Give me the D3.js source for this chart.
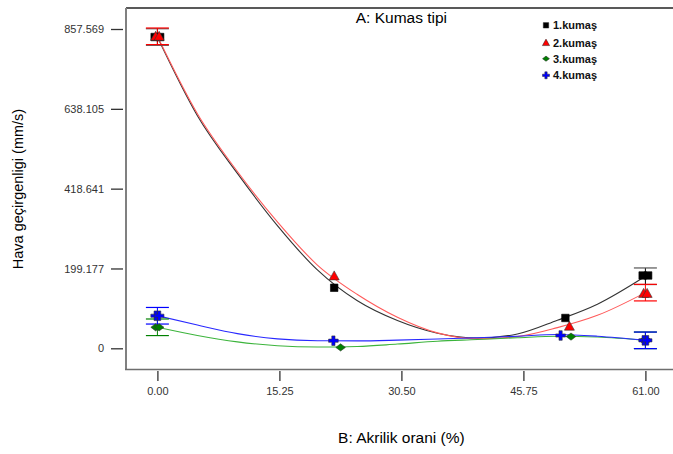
<!DOCTYPE html>
<html>
<head>
<meta charset="utf-8">
<script src="https://cdn.jsdelivr.net/npm/d3@7"></script>
<style>
body { margin: 0; background: #fff; }
svg { display: block; font-family: "Liberation Sans", Arial, sans-serif; }
</style>
</head>
<body>
<svg id="chart"></svg>
<script>
const series = ['1.kumaş', '2.kumaş', '3.kumaş', '4.kumaş'];
const markerColors = ['#000000', '#ff0000', '#008000', '#0000ff'];
const lineColors = ['#333333', '#ff5a5a', '#3cb43c', '#2828ff'];
const xTicks = [0, 15.25, 30.5, 45.75, 61];
// the bottom tick sits at the axis minimum but is labelled "0"
const yTicks = [-20.287, 199.177, 418.641, 638.105, 857.569];
const yTickLabels = ['0', '199.177', '418.641', '638.105', '857.569'];

// observed points
const pointX = [
    [0, 22.1, 51.0, 61],
    [0, 22.1, 51.5, 61],
    [0, 22.9, 51.7, 61],
    [0, 22.0, 50.4, 61]
];
const pointY = [
    [835.5, 146.1, 63.1, 179.9],
    [837.5, 178.8, 40.5, 130.7],
    [37.5, -17.8, 11.9, 1.6],
    [69.2, 0.6, 14.9, 1.6]
];
const pointReps = [2, 1, 1, 2];

// model curves
const curveX = [0, 5, 10, 15, 20, 25, 30, 35, 40, 45, 50, 55, 61];
const curveY = [
    [835.5, 619.3, 460.6, 317.1, 195.2, 110.2, 55.9, 21.1, 7.8, 19.0, 56.9, 101.0, 177.8],
    [837.5, 624.5, 465.7, 327.4, 208.6, 127.6, 65.1, 22.1, 5.7, 11.9, 36.5, 70.3, 132.8],
    [37.5, 15.0, -2.5, -13.2, -16.8, -15.3, -8.6, -0.9, 3.7, 8.8, 12.9, 10.8, 1.6],
    [69.2, 43.6, 20.1, 5.7, 0.6, 0.1, 2.1, 5.2, 8.8, 12.9, 17.5, 12.9, 1.6]
];

// LSD bars at the two ends
const barX = [0, 61];
const barY = [[835.5, 177.8], [837.5, 132.8], [37.5, 1.6], [69.2, 1.6]];
const barHalf = 22.8;

const width = 673, height = 454;
const frame = { left: 126, top: 8, bottom: 369.5, right: 680 };

const svg = d3.select('#chart').attr('width', width).attr('height', height);

const x = d3.scaleLinear().domain([0, 61]).range([157.4, 645.4]);
const y = d3.scaleLinear().domain([-20.287, 857.569]).range([348.3, 29]);

// frame
svg.append('line')
    .attr('x1', frame.left).attr('x2', frame.right)
    .attr('y1', frame.top).attr('y2', frame.top)
    .attr('stroke', '#222').attr('stroke-width', 1.5);
svg.append('line')
    .attr('x1', frame.left).attr('x2', frame.left)
    .attr('y1', frame.top).attr('y2', frame.bottom)
    .attr('stroke', '#808080').attr('stroke-width', 2);
svg.append('line')
    .attr('x1', frame.left - 1).attr('x2', frame.right)
    .attr('y1', frame.bottom).attr('y2', frame.bottom)
    .attr('stroke', '#6e6e6e').attr('stroke-width', 1.5);

// y axis
const yAxis = d3.axisLeft(y).tickValues(yTicks).tickSize(12).tickPadding(7)
    .tickFormat((d, i) => yTickLabels[i]);
svg.append('g')
    .attr('transform', `translate(${frame.left - 3},0)`)
    .call(yAxis)
    .call(g => g.select('.domain').remove())
    .call(g => g.selectAll('line').attr('stroke', '#333').attr('stroke-width', 1.3))
    .call(g => g.selectAll('text').attr('fill', '#333').style('font-size', '11px')
        .style('font-family', '"Liberation Sans", Arial, sans-serif'));

// x axis
const xAxis = d3.axisBottom(x).tickValues(xTicks).tickSize(10).tickPadding(6)
    .tickFormat(d3.format('.2f'));
svg.append('g')
    .attr('transform', `translate(0,${frame.bottom + 1.5})`)
    .call(xAxis)
    .call(g => g.select('.domain').remove())
    .call(g => g.selectAll('line').attr('stroke', '#333').attr('stroke-width', 1.3))
    .call(g => g.selectAll('text').attr('fill', '#333').style('font-size', '11px')
        .style('font-family', '"Liberation Sans", Arial, sans-serif'));

// titles
svg.append('text')
    .attr('x', x(30.5)).attr('y', 23)
    .attr('text-anchor', 'middle')
    .style('font-size', '15.5px')
    .text('A: Kumas tipi');

svg.append('text')
    .attr('x', x(30.5)).attr('y', 443)
    .attr('text-anchor', 'middle')
    .style('font-size', '15.5px')
    .text('B: Akrilik orani (%)');

svg.append('text')
    .attr('transform', 'translate(23,189) rotate(-90)')
    .attr('text-anchor', 'middle')
    .style('font-size', '14.5px')
    .text('Hava geçirgenligi (mm/s)');

// marker shapes
function markerPath(i, s) {
    if (i === 0) {
        const h = 3.75 * s;
        return `M${-h},${-h}H${h}V${h}H${-h}Z`;
    }
    if (i === 1) {
        const w = 5 * s, t = 5 * s, b = 4 * s;
        return `M0,${-t}L${w},${b}H${-w}Z`;
    }
    if (i === 2) {
        const w = 4.8 * s, h = 3.6 * s;
        return `M${-w},0L0,${-h}L${w},0L0,${h}Z`;
    }
    const a = 4.8 * s, t = 1.6 * s;
    return `M${-t},${-a}H${t}V${-t}H${a}V${t}H${t}V${a}H${-t}V${t}H${-a}V${-t}H${-t}Z`;
}

const line = d3.line().x(d => x(d[0])).y(d => y(d[1])).curve(d3.curveMonotoneX);

// curves
series.forEach((name, i) => {
    svg.append('path')
        .datum(curveX.map((v, j) => [v, curveY[i][j]]))
        .attr('d', line)
        .attr('fill', 'none')
        .attr('stroke', lineColors[i])
        .attr('stroke-width', 1.1);
});

// error bars
series.forEach((name, i) => {
    const g = svg.append('g');
    barX.forEach((bx, j) => {
        const cx = x(bx), cy = barY[i][j];
        g.append('line')
            .attr('x1', cx).attr('x2', cx)
            .attr('y1', y(cy + barHalf)).attr('y2', y(cy - barHalf))
            .attr('stroke', markerColors[i]).attr('stroke-width', 1);
        [cy + barHalf, cy - barHalf].forEach(v => {
            g.append('line')
                .attr('x1', cx - 11.5).attr('x2', cx + 11.5)
                .attr('y1', y(v)).attr('y2', y(v))
                .attr('stroke', i === 0 ? '#555' : markerColors[i])
                .attr('stroke-width', 1.2);
        });
    });
});

// points (replicates drawn slightly apart)
series.forEach((name, i) => {
    const spread = i === 0 ? 5.5 : 3.5;
    pointX[i].forEach((px, j) => {
        const reps = pointReps[j];
        for (let r = 0; r < reps; r++) {
            const off = reps > 1 ? (r - (reps - 1) / 2) * spread : 0;
            svg.append('path')
                .attr('transform', `translate(${x(px) + off},${y(pointY[i][j])})`)
                .attr('d', markerPath(i, 1))
                .attr('fill', markerColors[i])
                .attr('stroke', i === 0 ? '#000' : '#333')
                .attr('stroke-width', 0.6);
        }
    });
});

// legend
const legendY = [25.3, 42.7, 58.7, 75.3];
const legend = svg.append('g');
series.forEach((name, i) => {
    legend.append('path')
        .attr('transform', `translate(546,${legendY[i]})`)
        .attr('d', markerPath(i, 0.72))
        .attr('fill', markerColors[i])
        .attr('stroke', '#222')
        .attr('stroke-width', 0.5);
    legend.append('text')
        .attr('x', 553).attr('y', legendY[i] + 4)
        .style('font-size', '11px')
        .style('font-weight', 'bold')
        .attr('fill', '#111')
        .text(name);
});
</script>
</body>
</html>
